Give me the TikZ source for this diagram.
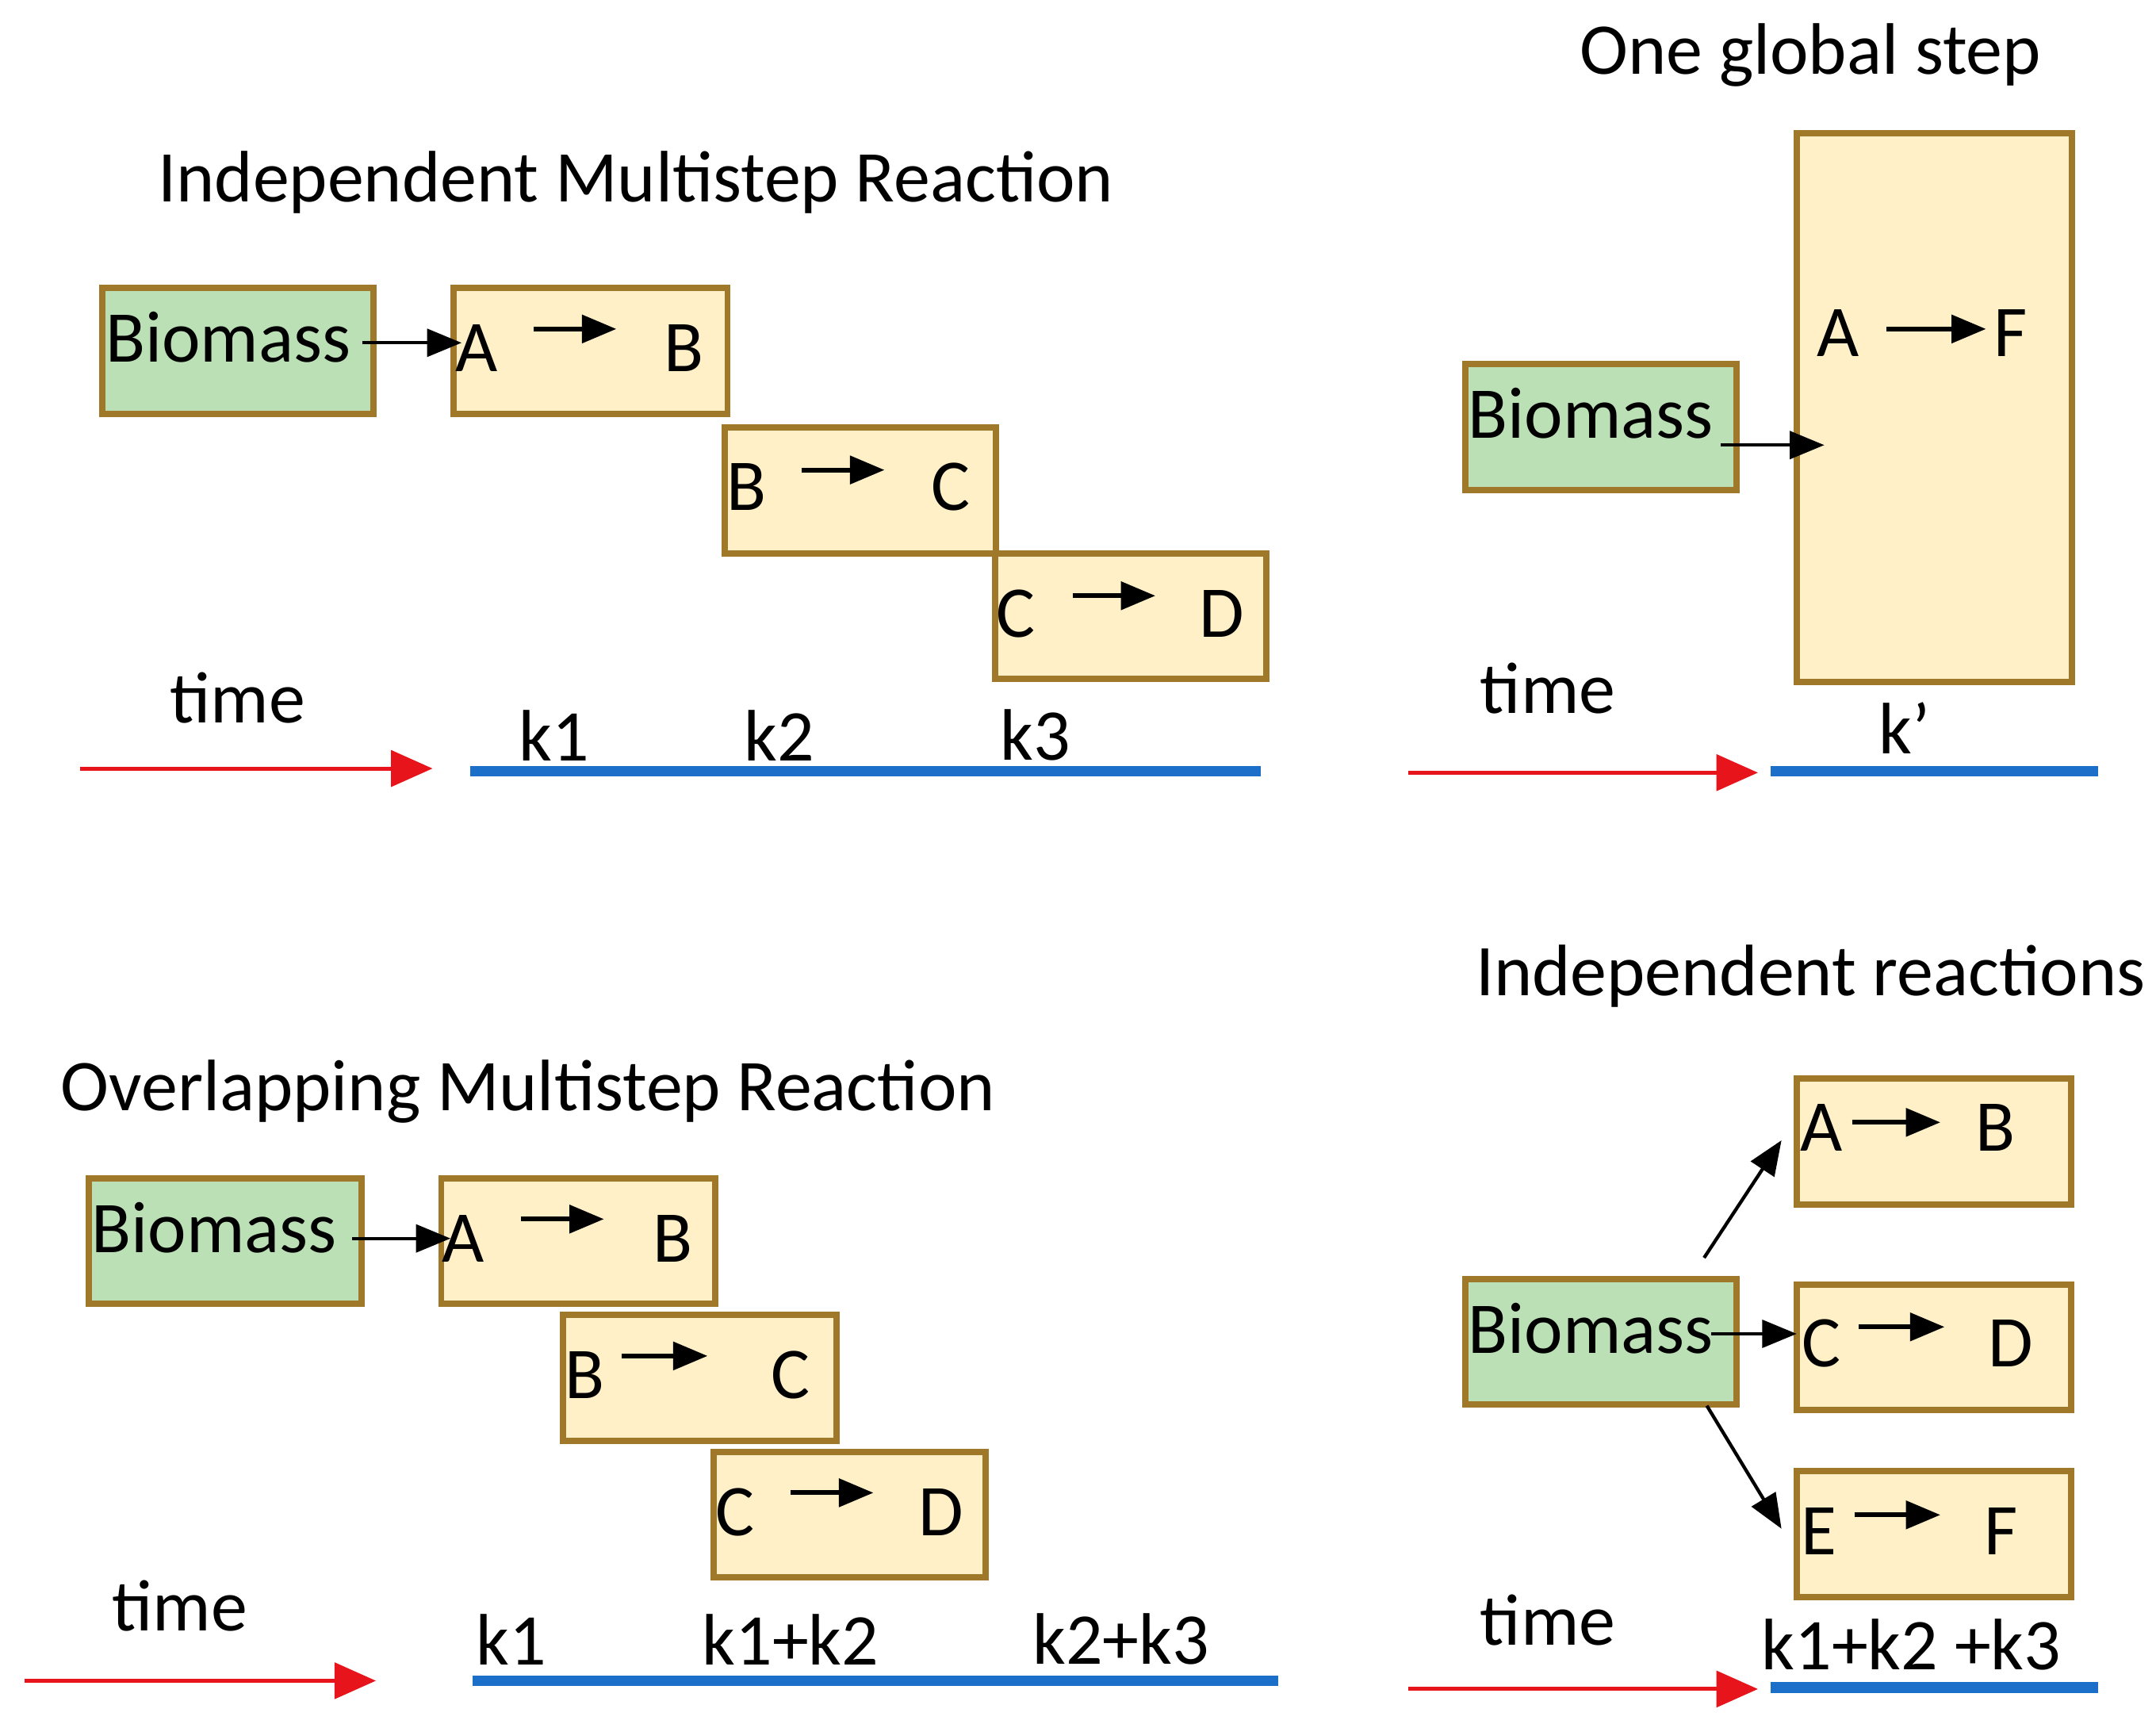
\documentclass[tikz,border=0pt]{standalone}
\usepackage{fontspec}
\setmainfont{Carlito}
\usetikzlibrary{arrows.meta}
\definecolor{gfill}{HTML}{BCE0B6}
\definecolor{yfill}{HTML}{FFF0C8}
\definecolor{bord}{HTML}{A0782A}
\definecolor{tblue}{HTML}{1C6FC8}
\definecolor{tred}{HTML}{E8141C}
\begin{document}
\begin{tikzpicture}[x=0.01cm,y=-0.01cm,
  every node/.style={font=\fontsize{15}{18}\selectfont},
  gbox/.style={draw=bord,line width=1.3pt,fill=gfill,anchor=north west,inner sep=0pt},
  ybox/.style={draw=bord,line width=1.3pt,fill=yfill,anchor=north west,inner sep=0pt},
  lbl/.style={inner sep=0pt},
  conn/.style={line width=0.7pt,-{Triangle[length=0.25cm,width=0.2cm]}},
  rxn/.style={line width=1pt,-{Triangle[length=0.25cm,width=0.2cm]}},
  redarr/.style={tred,line width=0.8pt,-{Triangle[length=0.3cm,width=0.26cm]}},
  blue/.style={tblue,line width=2.2pt}]
\useasboundingbox (0,0) rectangle (1560,1247);
% ---------- top left
\node[lbl] (t1) at (460,132) {Independent Multistep Reaction};
\node[gbox,minimum width=1.96cm,minimum height=0.91cm] (bm1) at (72,206) {};
\node[lbl] at (165,244) {Biomass};
\node[ybox,minimum width=1.98cm,minimum height=0.91cm] (b11) at (326,206) {};
\node[ybox,minimum width=1.96cm,minimum height=0.91cm] (b12) at (522,307) {};
\node[ybox,minimum width=1.96cm,minimum height=0.91cm] (b13) at (718,398) {};
\node[lbl] (a11) at (345,252) {A}; \node[lbl] at (495,252) {B};
\node[lbl] at (540,352) {B}; \node[lbl] at (688,352) {C};
\node[lbl] at (735,444) {C}; \node[lbl] at (884,444) {D};
\coordinate (s1) at (386,238); \coordinate (e1) at (446,238);
\coordinate (s2) at (580,340); \coordinate (e2) at (640,340);
\coordinate (s3) at (776,431); \coordinate (e3) at (836,431);
\draw[rxn] (s1)--(e1); \draw[rxn] (s2)--(e2); \draw[rxn] (s3)--(e3);
\coordinate (c1) at (262,248); \coordinate (c1e) at (334,248);
\draw[conn] (c1)--(c1e);
\node[lbl] (time1) at (172,505) {time};
\coordinate (r1s) at (58,556); \coordinate (r1e) at (313,556);
\draw[redarr] (r1s)--(r1e);
\coordinate (l1s) at (340,558); \coordinate (l1e) at (912,558);
\draw[blue] (l1s)--(l1e);
\node[lbl] at (401,532) {k1}; \node[lbl] at (564,532) {k2}; \node[lbl] at (749,532) {k3};
% ---------- top right
\node[lbl] (t2) at (1310,40) {One global step};
\node[ybox,minimum width=1.99cm,minimum height=3.97cm] (big) at (1298,94) {};
\node[lbl] at (1330,241) {A}; \node[lbl] at (1455,241) {F};
\coordinate (s4) at (1365,238); \coordinate (e4) at (1437,238);
\draw[rxn] (s4)--(e4);
\node[gbox,minimum width=1.96cm,minimum height=0.91cm] (bm2) at (1058,261) {};
\node[lbl] at (1151,299) {Biomass};
\coordinate (c2) at (1245,322); \coordinate (c2e) at (1320,322);
\draw[conn] (c2)--(c2e);
\node[lbl] at (1120,498) {time};
\coordinate (r2s) at (1019,559); \coordinate (r2e) at (1272,559);
\draw[redarr] (r2s)--(r2e);
\coordinate (l2s) at (1281,558); \coordinate (l2e) at (1518,558);
\draw[blue] (l2s)--(l2e);
\node[lbl] at (1378,527) {k’};
% ---------- bottom left
\node[lbl] (t3) at (382,790) {Overlapping Multistep Reaction};
\node[gbox,minimum width=1.97cm,minimum height=0.91cm] (bm3) at (62,850) {};
\node[lbl] at (155,888) {Biomass};
\node[ybox,minimum width=1.98cm,minimum height=0.91cm] (b31) at (317,850) {};
\node[ybox,minimum width=1.98cm,minimum height=0.91cm] (b32) at (405,949) {};
\node[ybox,minimum width=1.97cm,minimum height=0.91cm] (b33) at (514,1048) {};
\node[lbl] at (335,896) {A}; \node[lbl] at (487,896) {B};
\node[lbl] at (423,995) {B}; \node[lbl] at (572,995) {C};
\node[lbl] at (532,1094) {C}; \node[lbl] at (681,1094) {D};
\coordinate (s5) at (377,882); \coordinate (e5) at (437,882);
\coordinate (s6) at (450,981); \coordinate (e6) at (512,981);
\coordinate (s7) at (572,1080); \coordinate (e7) at (632,1080);
\draw[rxn] (s5)--(e5); \draw[rxn] (s6)--(e6); \draw[rxn] (s7)--(e7);
\coordinate (c3) at (255,896); \coordinate (c3e) at (326,896);
\draw[conn] (c3)--(c3e);
\node[lbl] at (130,1162) {time};
\coordinate (r3s) at (18,1216); \coordinate (r3e) at (272,1216);
\draw[redarr] (r3s)--(r3e);
\coordinate (l3s) at (342,1216); \coordinate (l3e) at (925,1216);
\draw[blue] (l3s)--(l3e);
\node[lbl] at (370,1186) {k1}; \node[lbl] at (572,1186) {k1+k2}; \node[lbl] at (811,1186) {k2+k3};
% ---------- bottom right
\node[lbl] (t4) at (1310,706) {Independent reactions};
\node[ybox,minimum width=1.98cm,minimum height=0.91cm] (b41) at (1298,778) {};
\node[ybox,minimum width=1.98cm,minimum height=0.91cm] (b42) at (1298,927) {};
\node[ybox,minimum width=1.98cm,minimum height=0.91cm] (b43) at (1298,1062) {};
\node[lbl] at (1318,816) {A}; \node[lbl] at (1444,816) {B};
\node[lbl] at (1318,972) {C}; \node[lbl] at (1455,972) {D};
\node[lbl] at (1316,1108) {E}; \node[lbl] at (1448,1108) {F};
\coordinate (s8) at (1340,812); \coordinate (e8) at (1404,812);
\coordinate (s9) at (1345,960); \coordinate (e9) at (1407,960);
\coordinate (s10) at (1342,1096); \coordinate (e10) at (1404,1096);
\draw[rxn] (s8)--(e8); \draw[rxn] (s9)--(e9); \draw[rxn] (s10)--(e10);
\node[gbox,minimum width=1.96cm,minimum height=0.91cm] (bm4) at (1058,923) {};
\node[lbl] at (1151,961) {Biomass};
\coordinate (d1) at (1233,910); \coordinate (d1e) at (1289,825);
\coordinate (d2) at (1238,965); \coordinate (d2e) at (1300,965);
\coordinate (d3) at (1235,1017); \coordinate (d3e) at (1289,1106);
\draw[conn] (d1)--(d1e); \draw[conn] (d2)--(d2e); \draw[conn] (d3)--(d3e);
\node[lbl] at (1120,1172) {time};
\coordinate (r4s) at (1019,1222); \coordinate (r4e) at (1272,1222);
\draw[redarr] (r4s)--(r4e);
\coordinate (l4s) at (1281,1221); \coordinate (l4e) at (1518,1221);
\draw[blue] (l4s)--(l4e);
\node[lbl] at (1383,1190) {k1+k2 +k3};
\end{tikzpicture}
\end{document}
